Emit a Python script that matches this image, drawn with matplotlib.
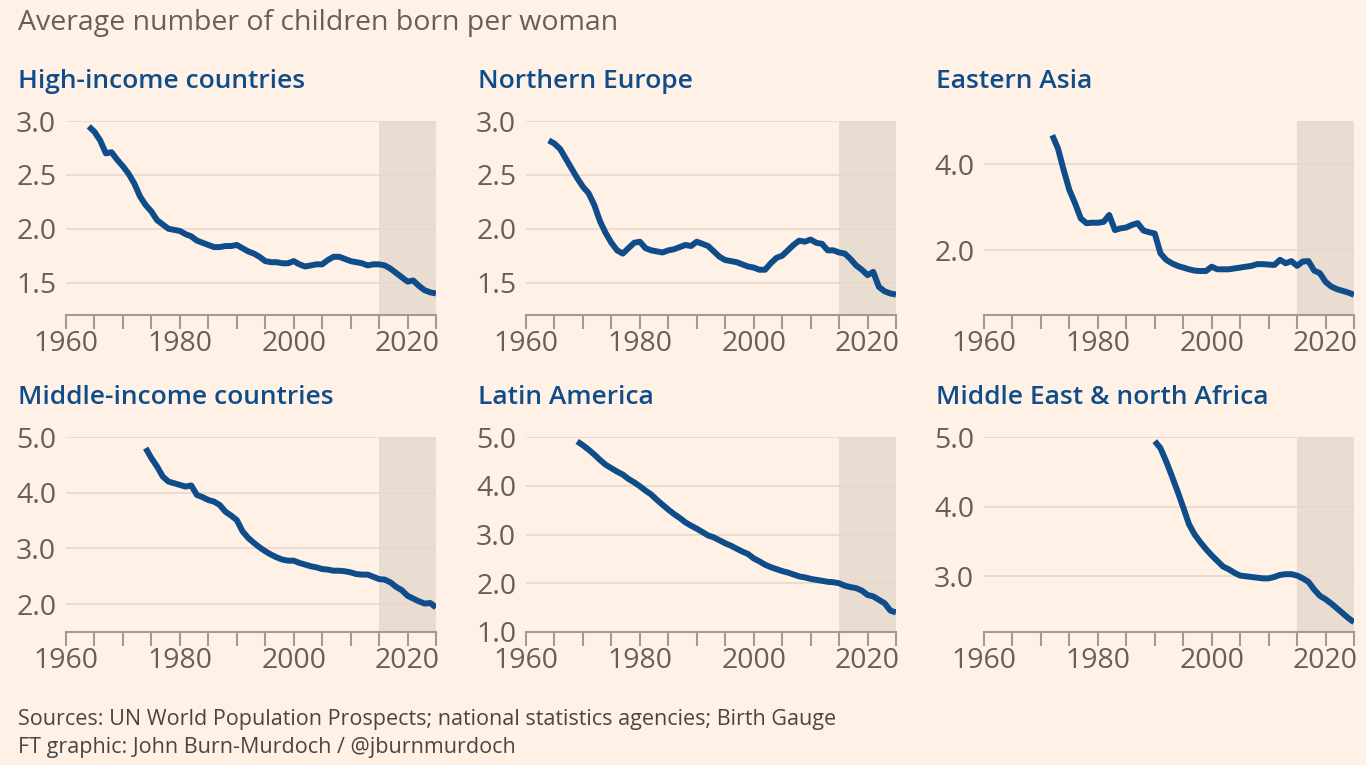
import numpy as np
import matplotlib.pyplot as plt

# fertility rate series
years_hi = list(range(1964, 2026))
hi_income = [2.95, 2.90, 2.82, 2.70, 2.71, 2.64, 2.58, 2.51, 2.42, 2.30,
             2.22, 2.16, 2.08, 2.04, 2.00, 1.99, 1.98, 1.95, 1.93, 1.89,
             1.87, 1.85, 1.83, 1.83, 1.84, 1.84, 1.85, 1.82, 1.79, 1.77,
             1.74, 1.70, 1.69, 1.69, 1.68, 1.68, 1.70, 1.67, 1.65, 1.66,
             1.67, 1.67, 1.71, 1.74, 1.74, 1.72, 1.70, 1.69, 1.68, 1.66,
             1.67, 1.67, 1.66, 1.63, 1.59, 1.55, 1.51, 1.52, 1.47, 1.43,
             1.41, 1.40]

years_ne = list(range(1964, 2026))
n_europe = [2.82, 2.79, 2.74, 2.65, 2.56, 2.47, 2.39, 2.33, 2.22, 2.07,
            1.96, 1.87, 1.80, 1.77, 1.82, 1.87, 1.88, 1.82, 1.80, 1.79,
            1.78, 1.80, 1.81, 1.83, 1.85, 1.84, 1.88, 1.86, 1.84, 1.79,
            1.74, 1.71, 1.70, 1.69, 1.67, 1.65, 1.64, 1.62, 1.62, 1.68,
            1.73, 1.75, 1.80, 1.85, 1.89, 1.88, 1.90, 1.87, 1.86, 1.80,
            1.80, 1.78, 1.77, 1.72, 1.66, 1.62, 1.57, 1.60, 1.46, 1.42,
            1.40, 1.39]

years_ea = list(range(1972, 2026))
e_asia = [4.67, 4.36, 3.86, 3.40, 3.09, 2.74, 2.63, 2.64, 2.64, 2.66,
          2.82, 2.47, 2.51, 2.53, 2.59, 2.63, 2.46, 2.42, 2.39, 1.93,
          1.78, 1.70, 1.64, 1.60, 1.56, 1.53, 1.52, 1.52, 1.62, 1.56,
          1.56, 1.56, 1.58, 1.60, 1.62, 1.64, 1.68, 1.68, 1.67, 1.66,
          1.78, 1.70, 1.75, 1.64, 1.74, 1.75, 1.53, 1.47, 1.27, 1.16,
          1.10, 1.06, 1.02, 0.97]

years_mi = list(range(1974, 2026))
mid_income = [4.80, 4.62, 4.47, 4.29, 4.20, 4.17, 4.14, 4.11, 4.13, 3.96,
              3.92, 3.87, 3.84, 3.78, 3.66, 3.59, 3.51, 3.31, 3.19, 3.10,
              3.02, 2.95, 2.89, 2.84, 2.80, 2.78, 2.78, 2.74, 2.71, 2.68,
              2.66, 2.63, 2.62, 2.60, 2.60, 2.59, 2.57, 2.54, 2.53, 2.53,
              2.49, 2.45, 2.44, 2.39, 2.31, 2.25, 2.15, 2.10, 2.05, 2.01,
              2.02, 1.94]

years_la = list(range(1969, 2026))
lat_am = [4.91, 4.83, 4.74, 4.64, 4.53, 4.43, 4.36, 4.29, 4.23, 4.14,
          4.07, 3.99, 3.90, 3.82, 3.71, 3.61, 3.51, 3.42, 3.34, 3.25,
          3.18, 3.12, 3.05, 2.98, 2.94, 2.88, 2.82, 2.77, 2.71, 2.65,
          2.60, 2.51, 2.45, 2.38, 2.33, 2.29, 2.25, 2.22, 2.18, 2.14,
          2.12, 2.09, 2.07, 2.05, 2.03, 2.02, 2.00, 1.95, 1.92, 1.90,
          1.85, 1.76, 1.73, 1.66, 1.59, 1.44, 1.40]

years_me = list(range(1990, 2026))
mena = [4.94, 4.84, 4.65, 4.44, 4.22, 3.99, 3.75, 3.60, 3.49, 3.39,
        3.30, 3.22, 3.14, 3.10, 3.05, 3.01, 3.00, 2.99, 2.98, 2.97,
        2.97, 2.99, 3.02, 3.03, 3.03, 3.01, 2.97, 2.92, 2.81, 2.72,
        2.67, 2.61, 2.54, 2.47, 2.40, 2.34]

titles = ["High-income countries", "Northern Europe", "Eastern Asia",
          "Middle-income countries", "Latin America", "Middle East & north Africa"]
series = [(years_hi, hi_income), (years_ne, n_europe), (years_ea, e_asia),
          (years_mi, mid_income), (years_la, lat_am), (years_me, mena)]
ylims = [(1.2, 3.0), (1.2, 3.0), (0.5, 5.0), (1.5, 5.0), (1.0, 5.0), (2.2, 5.0)]
yticks = [[1.5, 2.0, 2.5, 3.0], [1.5, 2.0, 2.5, 3.0], [2.0, 4.0],
          [2.0, 3.0, 4.0, 5.0], [1.0, 2.0, 3.0, 4.0, 5.0], [3.0, 4.0, 5.0]]

bg = "#FFF1E5"
blue = "#0F4C8A"
grey = "#66605C"
plt.rcParams['font.family'] = ['Open Sans', 'DejaVu Sans']

fig = plt.figure(figsize=(13.66, 7.65), dpi=100, facecolor=bg)

lefts = [66, 526, 984]
rows = [(121, 315), (437, 632)]
W, H = 1366, 765

for i, (title, (xs, ys)) in enumerate(zip(titles, series)):
    r, c = divmod(i, 3)
    top, bot = rows[r]
    ax = fig.add_axes([lefts[c] / W, 1 - bot / H, 370 / W, (bot - top) / H])
    ax.set_facecolor(bg)
    ax.axvspan(2015, 2025, color="#E9DDD2", zorder=0, lw=0)
    ax.plot(xs, ys, color=blue, lw=4.3, solid_joinstyle='round',
            solid_capstyle='butt', zorder=3)
    ax.set_xlim(1960, 2025)
    ax.set_ylim(*ylims[i])
    ax.set_yticks(yticks[i])
    ax.set_yticklabels([f"{v:.1f}" for v in yticks[i]])
    ax.set_xticks(range(1960, 2026, 5))
    ax.set_xticklabels([str(y) if y % 20 == 0 else "" for y in range(1960, 2026, 5)])
    ax.grid(axis='y', color="#E6D8CC", lw=1.2, zorder=1)
    for s in ['top', 'right', 'left']:
        ax.spines[s].set_visible(False)
    ax.spines['bottom'].set_color("#A39A92")
    ax.spines['bottom'].set_linewidth(1.5)
    ax.tick_params(axis='x', length=10, width=1.5, color="#A39A92",
                   labelsize=20.5, labelcolor=grey, pad=1)
    ax.tick_params(axis='y', length=0, labelsize=20.5, labelcolor=grey, pad=7)
    fig.text((lefts[c] - 48) / W, 1 - (top - 40) / H, title, fontsize=19,
             fontweight='semibold', color=blue, va='center', ha='left')

fig.text(18 / W, 1 - 23 / H, "Average number of children born per woman",
         fontsize=20.5, color=grey, va='center', ha='left')
fig.text(18 / W, 1 - 719 / H,
         "Sources: UN World Population Prospects; national statistics agencies; Birth Gauge",
         fontsize=15.5, color="#4A4542", va='center', ha='left')
fig.text(18 / W, 1 - 748 / H, "FT graphic: John Burn-Murdoch / @jburnmurdoch",
         fontsize=15.5, color="#4A4542", va='center', ha='left')

fig.savefig("out.png", dpi=100, facecolor=bg)
